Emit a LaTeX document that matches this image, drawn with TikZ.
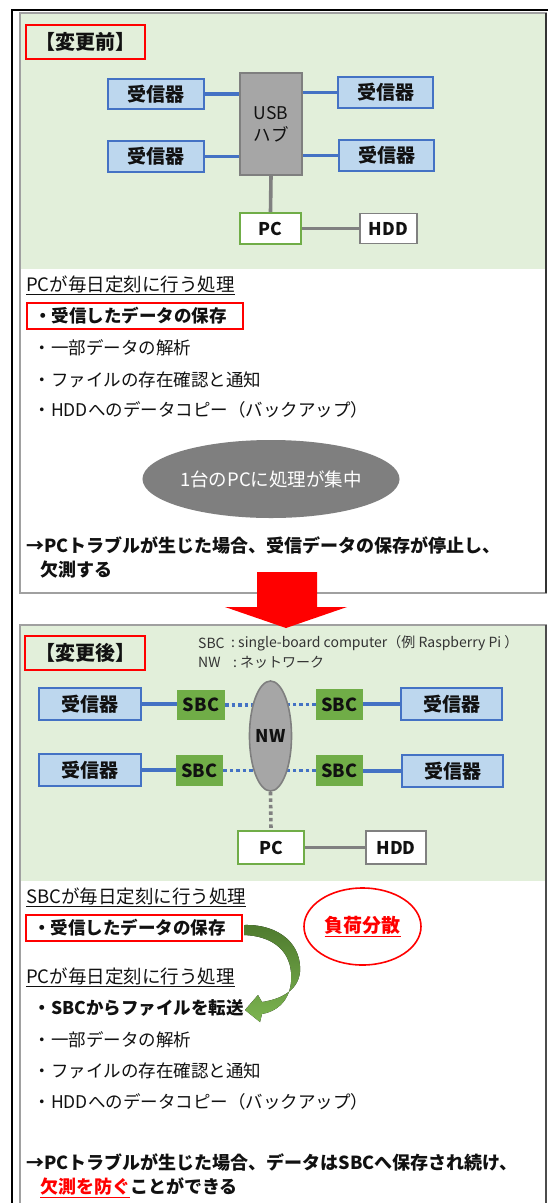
\documentclass[tikz,border=0pt]{standalone}
\usepackage{fontspec}
\setmainfont{Noto Sans CJK JP}
\usetikzlibrary{shapes.geometric,backgrounds}
\definecolor{panelg}{HTML}{E2EFDA}
\definecolor{rxfill}{HTML}{BDD7EE}
\definecolor{rxline}{HTML}{4472C4}
\definecolor{sbcg}{HTML}{70AD47}
\definecolor{hubfill}{HTML}{A6A6A6}
\definecolor{hubline}{HTML}{7F7F7F}
\definecolor{pcline}{HTML}{70AD47}
\definecolor{hddline}{HTML}{808080}
\definecolor{conngray}{HTML}{808080}
\definecolor{ellgray}{HTML}{7F7F7F}
\definecolor{panelline}{HTML}{A0A0A0}
\definecolor{agreenA}{HTML}{4E7A2E}
\definecolor{agreenB}{HTML}{7CB450}
\definecolor{txt}{HTML}{111111}
\definecolor{legc}{HTML}{333333}
\definecolor{redc}{HTML}{FF0000}
\tikzset{
  rcv/.style={draw=rxline, fill=rxfill, line width=1.8pt, inner sep=0pt, font=\fontsize{19}{19}\selectfont\bfseries, text=txt},
  sbcbox/.style={fill=sbcg, inner sep=0pt, font=\fontsize{18}{18}\selectfont\bfseries, text=txt},
  hubbox/.style={draw=hubline, fill=hubfill, line width=1.8pt, inner sep=0pt, align=center, font=\fontsize{17.5}{22}\selectfont, text=txt},
  pcbox/.style={draw=pcline, fill=white, line width=1.8pt, inner sep=0pt, font=\fontsize{17.5}{17.5}\selectfont\bfseries, text=txt},
  hddbox/.style={draw=hddline, fill=white, line width=1.8pt, inner sep=0pt, font=\fontsize{17.5}{17.5}\selectfont\bfseries, text=txt},
  tagbox/.style={draw=redc, line width=1.6pt, inner sep=0pt, font=\fontsize{20}{20}\selectfont\bfseries, text=txt},
  body/.style={anchor=west, inner sep=0pt, font=\fontsize{17.5}{17.5}\selectfont, text=txt, text height=15.4pt, text depth=2.1pt},
  head/.style={body, font=\fontsize{18.5}{18.5}\selectfont},
  bodyb/.style={body, font=\fontsize{17.5}{17.5}\selectfont\bfseries},
  concl/.style={body, font=\fontsize{18}{18}\selectfont\bfseries},
  hlbox/.style={draw=redc, line width=1.6pt, anchor=west, inner ysep=0pt, inner xsep=7.5pt, text width=201pt, align=left, minimum height=26pt, font=\fontsize{17.5}{17.5}\selectfont\bfseries, text=txt, text height=15.4pt, text depth=2.1pt},
  blueline/.style={draw=rxline, line width=3.6pt},
  grayline/.style={draw=conngray, line width=3.6pt},
  bluedot/.style={draw=rxline, line width=3.6pt, dash pattern=on 3.5pt off 3pt},
  graydot/.style={draw=conngray, line width=3.6pt, dash pattern=on 3.5pt off 3pt},
  legend/.style={anchor=west, inner sep=0pt, font=\fontsize{14}{14}\selectfont, text=legc},
}
\begin{document}
\begin{tikzpicture}[x=1pt,y=-1pt]
\useasboundingbox (0,0) rectangle (548,1203);
\clip (0,0) rectangle (548,1203);
\begin{scope}[on background layer]
  \fill[white] (0,0) rectangle (548,1203);
  \draw[black, line width=1.2pt] (12,1215) -- (12,10) -- (560,10);
  % top panel
  \fill[white] (20,13) rectangle (546,593);
  \fill[panelg] (20,13) rectangle (546,269);
  \draw[panelline, line width=1.2pt] (20,13) rectangle (546,593);
  \draw[panelline, line width=2pt] (20,13) -- (546,13);
  \draw[black!80, line width=1.2pt] (546,13) -- (546,593);
  % bottom panel
  \fill[white] (20,625) rectangle (546,1215);
  \fill[panelg] (20,625) rectangle (546,881);
  \draw[panelline, line width=1.2pt] (20,625) rectangle (546,1215);
  \draw[black!70, line width=1.2pt] (546,625) -- (546,1215);
\end{scope}

% ===== top: before =====
\node[tagbox, minimum width=119pt, minimum height=34pt] (tag1) at (85.5,42) {【変更前】};
\node[rcv, minimum width=96pt, minimum height=30pt] (r1) at (156,94) {受信器};
\node[rcv, minimum width=96pt, minimum height=31pt] (r2) at (156,156.5) {受信器};
\node[rcv, minimum width=95pt, minimum height=31pt] (r3) at (385.5,92.5) {受信器};
\node[rcv, minimum width=95pt, minimum height=31pt] (r4) at (386.5,155.5) {受信器};
\node[hubbox, minimum width=62pt, minimum height=102pt] (hub) at (271,124) {USB\\ハブ};
\node[pcbox, minimum width=61pt, minimum height=31pt] (pc1) at (270.5,228.5) {PC};
\node[hddbox, minimum width=57pt, minimum height=30pt] (hdd1) at (388.5,228.5) {HDD};
\draw[blueline] (r1.east) -- (r1.east -| hub.west);
\draw[blueline] (r2.east) -- (r2.east -| hub.west);
\draw[blueline] (r3.west) -- (r3.west -| hub.east);
\draw[blueline] (r4.west) -- (r4.west -| hub.east);
\draw[grayline] (hub.south) -- (pc1.north);
\draw[grayline] (pc1.east) -- (hdd1.west);

\node[head] (h1) at (26,285) {\underline{PCが毎日定刻に行う処理}};
\node[hlbox, minimum width=216pt] (i1) at (26,316) {・受信したデータの保存};
\node[body] (i2) at (33.5,348) {・一部データの解析};
\node[body] (i3) at (33.5,380) {・ファイルの存在確認と通知};
\node[body] (i4) at (33.5,410) {・HDDへのデータコピー（バックアップ）};
\node[ellipse, fill=ellgray, minimum width=222pt, minimum height=78pt, inner sep=0pt, text=white, font=\fontsize{18.5}{18.5}\selectfont] (conc) at (271,479) {1台のPCに処理が集中};
\node[concl] (c1) at (26,546) {→PCトラブルが生じた場合、受信データの保存が停止し、};
\node[concl] (c2) at (40,569.5) {欠測する};

% big red arrow
\fill[redc] (257,572) -- (317,572) -- (317,607) -- (347,607) -- (286,628) -- (225,607) -- (257,607) -- cycle;

% ===== bottom: after =====
\node[tagbox, minimum width=120pt, minimum height=34pt] (tag2) at (85,653) {【変更後】};
\node[legend] (lg1a) at (198,643) {SBC};
\node[legend] (lg1b) at (231,643) {:\ single-board computer（例 Raspberry Pi ）};
\node[legend] (lg2a) at (198,662) {NW};
\node[legend] (lg2b) at (233,662) {:\ ネットワーク};

\node[rcv, minimum width=102pt, minimum height=32pt] (R1) at (90,704) {受信器};
\node[rcv, minimum width=102pt, minimum height=32pt] (R2) at (90,770) {受信器};
\node[rcv, minimum width=101pt, minimum height=32pt] (R3) at (451.5,704) {受信器};
\node[rcv, minimum width=101pt, minimum height=32pt] (R4) at (452.5,771) {受信器};
\node[sbcbox, minimum width=48pt, minimum height=30pt] (S1) at (201,705) {SBC};
\node[sbcbox, minimum width=47pt, minimum height=31pt] (S2) at (199.5,770.5) {SBC};
\node[sbcbox, minimum width=47pt, minimum height=31pt] (S3) at (339.5,704.5) {SBC};
\node[sbcbox, minimum width=47pt, minimum height=31pt] (S4) at (339.5,770.5) {SBC};
\node[ellipse, draw=hubline, fill=hubfill, line width=1.6pt, minimum width=41pt, minimum height=110pt, inner sep=0pt, font=\fontsize{17.5}{17.5}\selectfont\bfseries, text=txt] (NW) at (270.5,736) {NW};
\node[pcbox, minimum width=66pt, minimum height=33pt] (pc2) at (271,847.5) {PC};
\node[hddbox, minimum width=60pt, minimum height=33pt] (hdd2) at (396,847.5) {HDD};

\draw[blueline] (R1.east) -- (R1.east -| S1.west);
\draw[blueline] (R2.east) -- (R2.east -| S2.west);
\draw[blueline] (R3.west) -- (R3.west -| S3.east);
\draw[blueline] (R4.west) -- (R4.west -| S4.east);
\begin{scope}[on background layer]
  \draw[bluedot] (S1.east) -- (S1.east -| NW.center);
  \draw[bluedot] (S2.east) -- (S2.east -| NW.center);
  \draw[bluedot] (S3.west) -- (S3.west -| NW.center);
  \draw[bluedot] (S4.west) -- (S4.west -| NW.center);
\end{scope}
\draw[graydot] (NW.south) -- (pc2.north);
\draw[grayline] (pc2.east) -- (hdd2.west);

\node[head] (h2) at (26,897) {\underline{SBCが毎日定刻に行う処理}};
\node[hlbox, minimum width=216pt] (j1) at (25,928) {・受信したデータの保存};
\node[ellipse, draw=redc, line width=1.6pt, fill=white, minimum width=117pt, minimum height=77pt, inner sep=0pt, text=redc, font=\fontsize{19}{19}\selectfont\bfseries] (load) at (362.5,926.5) {\underline{負荷分散}};
\node[head] (h3) at (26,977) {\underline{PCが毎日定刻に行う処理}};
\node[bodyb] (j2) at (33.5,1008) {・SBCからファイルを転送};
\node[body] (j3) at (33.5,1040) {・一部データの解析};
\node[body] (j4) at (33.5,1071) {・ファイルの存在確認と通知};
\node[body] (j5) at (33.5,1102) {・HDDへのデータコピー（バックアップ）};
\node[concl] (d1) at (26,1163) {→PCトラブルが生じた場合、データはSBCへ保存され続け、};
\node[concl] (d2) at (40,1187) {\textcolor{redc}{\underline{欠測を防ぐ}}ことができる};

% green curved arrow
\fill[top color=agreenA, bottom color=agreenB]
  (244,925) .. controls (280,924) and (302,945) .. (300,972)
  .. controls (298,990) and (282,999) .. (262,1002)
  -- (258,995) -- (245,1010) -- (260,1022) -- (262,1014)
  .. controls (284,1010) and (293,992) .. (291,972)
  .. controls (289,950) and (272,936) .. (244,935) -- cycle;
\end{tikzpicture}
\end{document}
